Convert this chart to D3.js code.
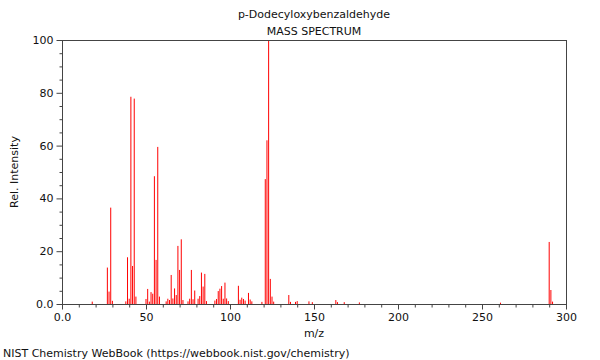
<!DOCTYPE html>
<html>
<head>
<meta charset="utf-8">
<script src="https://cdn.jsdelivr.net/npm/d3@7"></script>
<style>
  html, body { margin: 0; padding: 0; background: #fff; }
  svg { display: block; font-family: "DejaVu Sans", sans-serif; }
</style>
</head>
<body>
<svg id="chart" width="600" height="360"></svg>
<script>
const title = "p-Dodecyloxybenzaldehyde";
const subtitle = "MASS SPECTRUM";
const xLabel = "m/z";
const yLabel = "Rel. Intensity";
const footer = "NIST Chemistry WebBook (https://webbook.nist.gov/chemistry)";

const mz = [18, 27, 28, 29, 30, 38, 39, 40, 41, 42, 43, 44, 50, 51, 52, 53, 54, 55, 56, 57, 58,
  62, 63, 64, 65, 66, 67, 68, 69, 70, 71, 72, 75, 76, 77, 78, 79, 81, 82, 83, 84, 85, 86,
  91, 92, 93, 94, 95, 96, 97, 98, 99, 105, 106, 107, 108, 109, 111, 112, 113, 119,
  121, 122, 123, 124, 125, 126, 135, 136, 139, 140, 147, 149, 163, 164, 168, 177, 261,
  290, 291, 292];
const intensity = [0.9, 13.8, 4.7, 36.5, 1.2, 1.0, 17.7, 2.0, 78.5, 14.4, 77.8, 2.8, 1.9, 5.7, 0.9, 4.5, 3.9, 48.4, 16.7, 59.5, 2.8,
  1.0, 2.0, 1.5, 11.0, 2.1, 5.9, 3.4, 22.0, 12.9, 24.5, 1.5, 1.0, 2.0, 12.9, 1.8, 5.1, 2.0, 3.0, 11.9, 6.6, 11.4, 1.1,
  1.3, 1.9, 4.9, 5.8, 6.8, 2.0, 8.1, 2.1, 1.1, 6.9, 1.6, 2.4, 1.9, 1.3, 4.2, 1.7, 1.0, 0.8,
  47.3, 62.0, 100, 9.5, 2.8, 0.9, 3.4, 0.8, 0.8, 1.1, 1.0, 0.7, 1.5, 0.7, 0.7, 0.6, 0.5,
  23.5, 5.3, 0.9];

const xTickValues = [0, 50, 100, 150, 200, 250, 300];
const xTickLabels = ["0.0", "50", "100", "150", "200", "250", "300"];
const yTickValues = [0, 20, 40, 60, 80, 100];
const yTickLabels = ["0.0", "20", "40", "60", "80", "100"];

const svg = d3.select("#chart");
const L = 62, R = 566, T = 40, B = 304;
const x = d3.scaleLinear().domain([0, 300]).range([L, R]);
const y = d3.scaleLinear().domain([0, 100]).range([B, T]);
const axisColor = "#444";

// peaks
svg.append("g").selectAll("line").data(mz).join("line")
  .attr("x1", d => x(d)).attr("x2", d => x(d))
  .attr("y1", y(0)).attr("y2", (d, i) => y(intensity[i]))
  .attr("stroke", "#ff0000").attr("stroke-width", 1);

// frame
svg.append("rect").attr("x", L + 0.5).attr("y", T + 0.5)
  .attr("width", R - L - 1 + 1).attr("height", B - T)
  .attr("fill", "none").attr("stroke", axisColor).attr("stroke-width", 1);

// x axis
const xMinor = d3.range(0, 301, 10).filter(v => v % 50 !== 0);
const gx = svg.append("g").attr("transform", `translate(0,${B + 0.5})`);
gx.call(d3.axisBottom(x).tickValues(xMinor).tickSize(3).tickFormat(""));
gx.call(g => g.selectAll(".domain").remove());
const gx2 = svg.append("g").attr("transform", `translate(0,${B + 0.5})`);
gx2.call(d3.axisBottom(x).tickValues(xTickValues).tickSize(5)
  .tickFormat((d, i) => xTickLabels[i]).tickPadding(4));
gx2.select(".domain").remove();
svg.selectAll("g.tick line").attr("stroke", axisColor);
gx2.selectAll("text").attr("font-size", 11).attr("fill", "#111")
  .attr("font-family", "DejaVu Sans, sans-serif");

// y axis
const yMinor = d3.range(0, 101, 5).filter(v => v % 20 !== 0);
const gy = svg.append("g").attr("transform", `translate(${L + 0.5},0)`);
gy.call(d3.axisLeft(y).tickValues(yMinor).tickSize(3).tickFormat(""));
gy.select(".domain").remove();
const gy2 = svg.append("g").attr("transform", `translate(${L + 0.5},0)`);
gy2.call(d3.axisLeft(y).tickValues(yTickValues).tickSize(6)
  .tickFormat((d, i) => yTickLabels[i]).tickPadding(3));
gy2.select(".domain").remove();
svg.selectAll("g.tick line").attr("stroke", axisColor);
gy2.selectAll("text").attr("font-size", 11).attr("fill", "#111")
  .attr("font-family", "DejaVu Sans, sans-serif");

// titles
svg.append("text").attr("x", 314).attr("y", 18).attr("text-anchor", "middle")
  .attr("font-size", 11).attr("fill", "#111").text(title);
svg.append("text").attr("x", 314).attr("y", 35).attr("text-anchor", "middle")
  .attr("font-size", 11).attr("fill", "#111").text(subtitle);
svg.append("text").attr("x", 314).attr("y", 337).attr("text-anchor", "middle")
  .attr("font-size", 11).attr("fill", "#111").text(xLabel);
svg.append("text").attr("transform", "translate(18,172) rotate(-90)")
  .attr("text-anchor", "middle").attr("font-size", 11).attr("fill", "#111").text(yLabel);
svg.append("text").attr("x", 3).attr("y", 357).attr("font-size", 11)
  .attr("fill", "#111").text(footer);
</script>
</body>
</html>
